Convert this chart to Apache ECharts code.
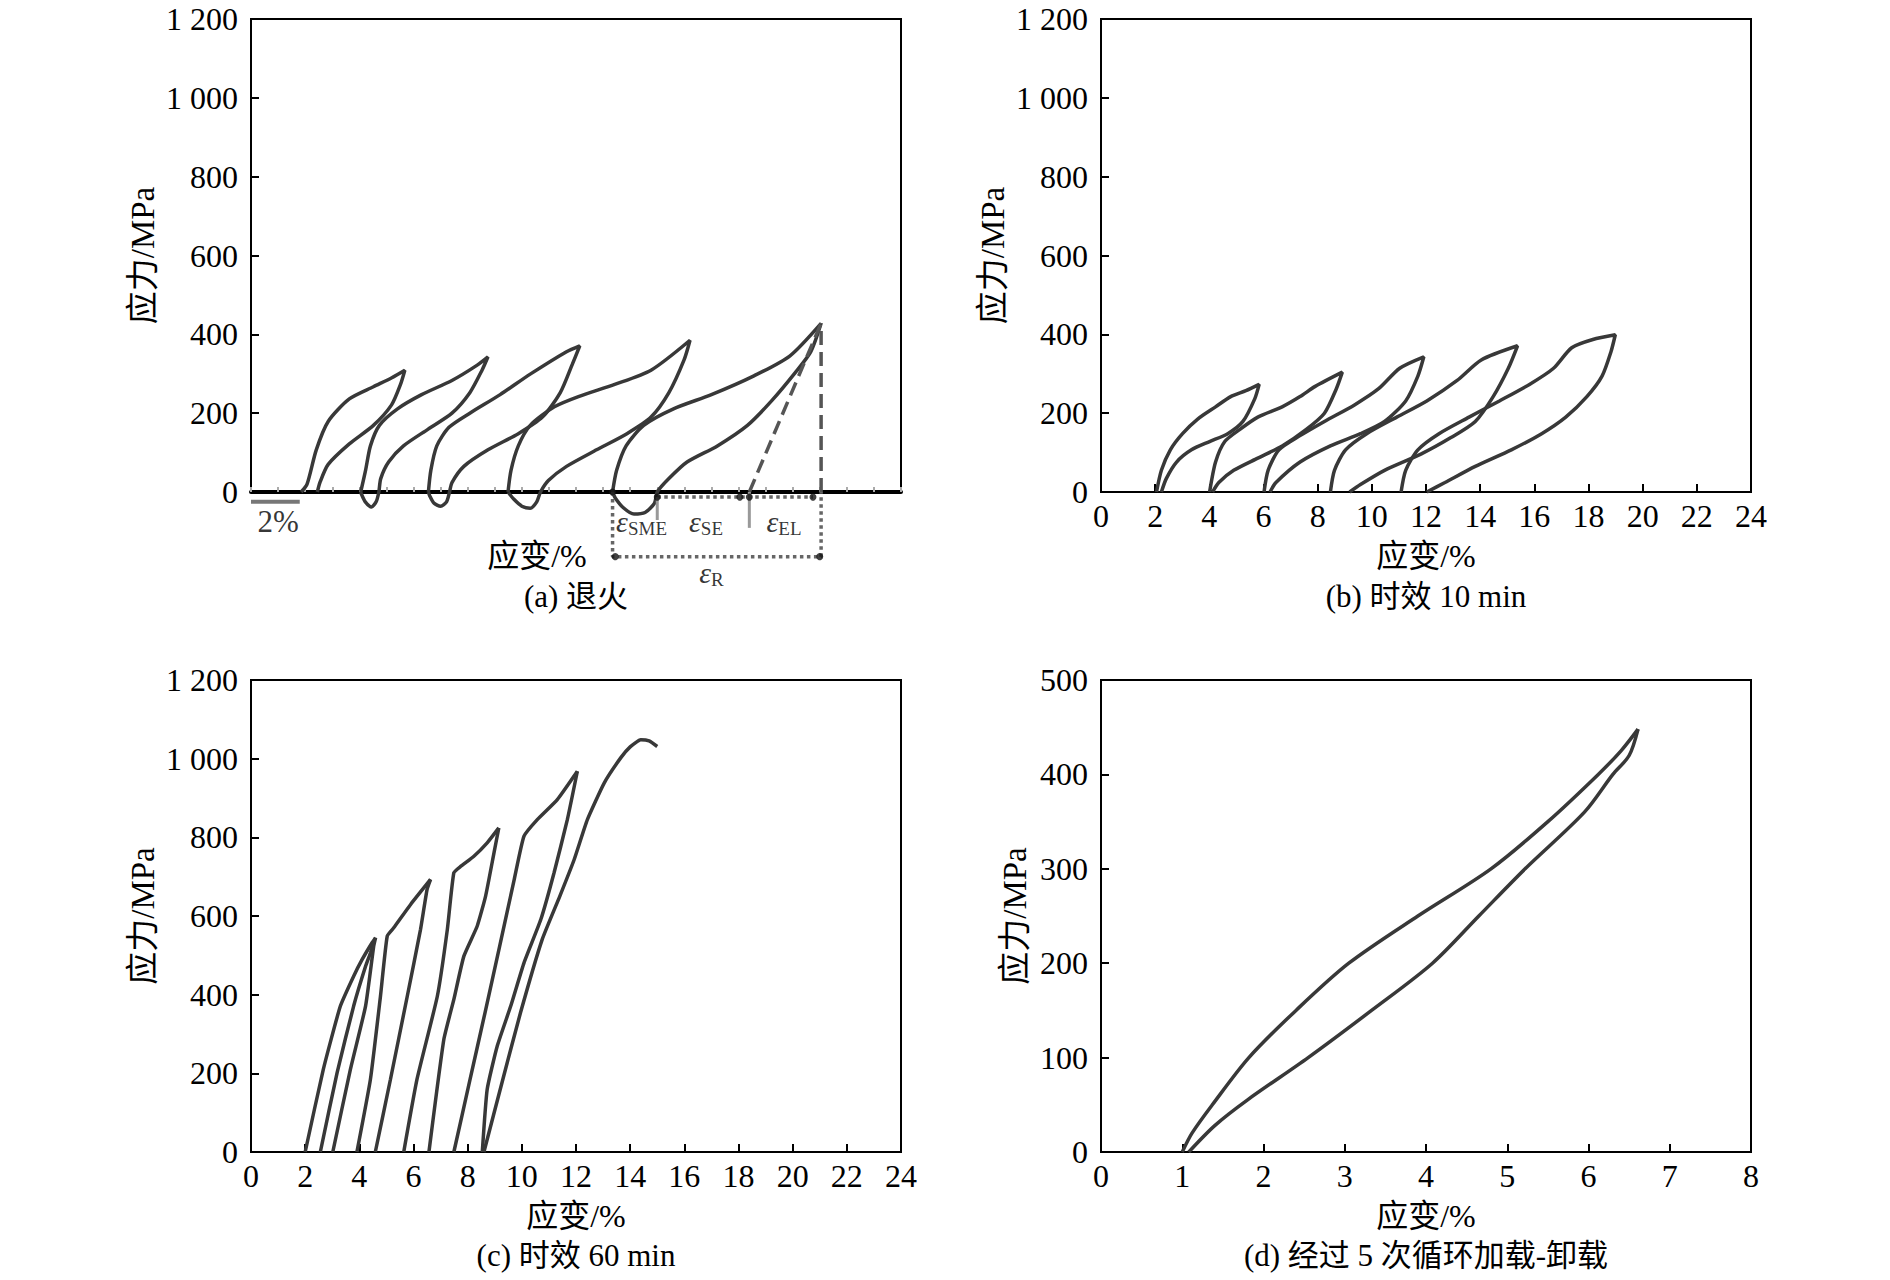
<!DOCTYPE html>
<html><head><meta charset="utf-8">
<script src="https://cdn.jsdelivr.net/npm/echarts@6/dist/echarts.min.js"></script>
<style>html,body{margin:0;padding:0;background:#fff}#c{width:1890px;height:1280px}</style>
</head><body><div id="c"></div>
<script>
// ---------- data (strain %, stress MPa) ----------
const annealedLoop1 = [[1.85,0],[2.07,20],[2.41,107],[2.85,179],[3.63,236],[4.52,267],[5.2,290],[5.68,309],[5.52,273],[5.19,221],[4.52,169],[3.63,122],[2.85,70],[2.55,25],[2.45,0]];
const annealedLoop2 = [[4.05,0],[4.23,55],[4.41,117],[4.74,169],[5.41,211],[6.30,247],[7.42,283],[8.31,320],[8.75,343],[8.53,309],[8.08,252],[7.42,200],[6.53,159],[5.63,117],[5.08,76],[4.79,34],[4.72,0],[4.62,-25],[4.45,-38],[4.22,-25],[4.08,-6],[4.05,0]];
const annealedLoop3 = [[6.55,0],[6.64,55],[6.86,117],[7.31,164],[8.08,200],[9.20,247],[10.31,299],[11.65,356],[12.14,371],[11.87,325],[11.42,252],[10.76,190],[9.87,148],[8.75,107],[7.86,65],[7.42,24],[7.33,0],[7.22,-25],[7.0,-36],[6.75,-28],[6.6,-10],[6.55,0]];
const annealedLoop4 = [[9.49,0],[9.60,55],[9.87,117],[10.31,169],[11.20,216],[12.09,242],[13.43,273],[14.77,309],[16.21,385],[15.99,335],[15.43,252],[14.77,190],[13.88,148],[12.76,107],[11.65,65],[10.98,29],[10.69,0],[10.55,-25],[10.31,-41],[10.0,-36],[9.7,-18],[9.49,0]];
const annealedLoop5 = [[13.35,0],[13.5,55],[13.85,117],[14.5,169],[15.6,211],[17.0,247],[18.55,294],[19.89,345],[21.05,428],[20.67,356],[20.11,304],[19.22,231],[18.33,169],[17.22,117],[16.10,76],[15.43,34],[15.0,0],[14.9,-28],[14.55,-52],[14.14,-56],[13.75,-40],[13.45,-15],[13.35,0]];
const scaleBar2pct = [[0,-25],[1.8,-25]];
const epsRBracket = [[13.35,0],[13.35,-164],[21.05,-164],[21.05,0]];
const peakDrop = [[21.05,0],[21.05,428]];
const elasticLine = [[18.4,0],[21.05,428]];
const seDotted = [[15.0,-13],[20.75,-13]];
const elMarker = [[18.4,0],[18.4,-91]];
const smeMarker = [[15.0,-13],[15.0,-71]];
const annoDots = [[13.35,0],[15.0,-13],[18.05,-13],[18.4,-13],[20.75,-13],[13.45,-164],[21.0,-164]];
const annoLabels = [
  {value:[14.42,-76], txt:'{e|ε}{s|SME}'},
  {value:[16.8,-76], txt:'{e|ε}{s|SE}'},
  {value:[19.68,-76], txt:'{e|ε}{s|EL}'},
  {value:[17.0,-205], txt:'{e|ε}{s|R}'},
  {value:[1.0,-75], txt:'{n|2%}'}
];

const aged10Loop1 = [[2.05,0],[2.23,55],[2.56,107],[3.01,148],[3.57,185],[4.23,216],[4.79,242],[5.35,257],[5.84,273],[5.68,237],[5.24,179],[4.68,148],[4.01,128],[3.34,107],[2.79,76],[2.41,34],[2.23,0]];
const aged10Loop2 = [[4.01,0],[4.23,76],[4.57,128],[5.13,159],[5.79,190],[6.69,216],[7.35,242],[7.91,268],[8.91,304],[8.69,262],[8.25,200],[7.58,159],[6.69,117],[5.79,86],[4.90,55],[4.35,24],[4.12,0]];
const aged10Loop3 = [[6.02,0],[6.17,55],[6.57,107],[7.35,143],[8.25,179],[9.36,221],[10.25,262],[11.03,314],[11.92,343],[11.70,294],[11.25,231],[10.47,179],[9.58,148],[8.47,117],[7.35,76],[6.46,24],[6.24,0]];
const aged10Loop4 = [[8.47,0],[8.62,55],[9.03,107],[9.81,148],[10.92,190],[12.03,231],[13.15,283],[14.04,335],[15.38,371],[15.04,314],[14.48,242],[13.82,179],[12.92,138],[11.81,96],[10.47,55],[9.58,19],[9.18,0]];
const aged10Loop5 = [[11.08,0],[11.25,55],[11.70,107],[12.48,148],[13.59,190],[14.71,231],[15.82,273],[16.71,314],[17.38,366],[18.16,387],[18.99,399],[18.83,356],[18.50,294],[17.94,242],[17.16,190],[16.27,148],[15.15,107],[13.82,65],[12.70,24],[12.03,0]];

const aged60Line1 = [[2.0,0],[2.67,210],[3.30,371],[3.79,447],[4.10,489],[4.47,532],[4.60,545]];
const aged60Line2 = [[2.56,0],[3.18,202],[3.79,371],[4.23,472],[4.41,506],[4.55,535]];
const aged60Line3 = [[3.02,0],[3.67,210],[4.23,371],[4.53,523],[4.60,545]];
const aged60Line4 = [[3.91,0],[4.41,185],[4.78,396],[5.03,549],[5.27,570],[5.9,630],[6.63,693]];
const aged60Line5 = [[4.59,0],[5.15,185],[5.77,396],[6.26,566],[6.50,667],[6.63,693]];
const aged60Line6 = [[5.64,0],[6.13,185],[6.88,396],[7.25,566],[7.49,710],[7.74,726],[8.23,752],[8.72,786],[9.15,824]];
const aged60Line7 = [[6.57,0],[7.12,286],[7.49,388],[7.86,498],[8.35,574],[8.66,650],[8.97,760],[9.15,824]];
const aged60Line8 = [[7.49,0],[8.09,185],[8.64,354],[9.18,523],[9.72,693],[10.08,803],[10.57,845],[11.31,896],[12.05,968]];
const aged60Line9 = [[12.05,968],[11.68,845],[11.19,710],[10.70,591],[10.08,481],[9.59,371],[9.09,269],[8.72,159],[8.54,0]];
const aged60Line10 = [[8.6,0],[9.3,185],[9.95,354],[10.75,540],[11.4,650],[11.93,743],[12.42,845],[13.04,938],[13.65,1002],[14.0,1030],[14.39,1048],[14.7,1045],[15.0,1031]];

const cycledLoading = [[1.0,0],[1.12,20],[1.37,50],[1.82,100],[2.4,150],[3.05,200],[3.9,250],[4.8,300],[5.5,350],[6.12,400],[6.4,425],[6.61,448]];
const cycledUnloading = [[6.61,448],[6.5,420],[6.3,400],[5.95,360],[5.22,300],[4.65,250],[4.08,200],[3.33,150],[2.55,100],[1.8,55],[1.4,28],[1.08,0]];

const strainTicks24 = {min:0, max:24, interval:2};
const strainTicks8 = {min:0, max:8, interval:1};
const stressTicks1200 = {min:0, max:1200, interval:200};
const stressTicks500 = {min:0, max:500, interval:100};
const panelTitles = ['(a) 退火','(b) 时效 10 min','(c) 时效 60 min','(d) 经过 5 次循环加载-卸载'];
const xName = '应变/%';
const yName = '应力/MPa';

// ---------- chart ----------
const FONT = '"Liberation Serif","Times New Roman","Noto Sans CJK SC",serif';
const chart = echarts.init(document.getElementById('c'), null, {renderer:'svg'});
const grids = [
  {left:251, top:19, width:650, height:473},
  {left:1101, top:19, width:650, height:473},
  {left:251, top:680, width:650, height:472},
  {left:1101, top:680, width:650, height:472}
].map(g => Object.assign(g, {show:true, borderColor:'#000', borderWidth:2, containLabel:false}));

const fmt = v => v >= 1000 ? String(v).replace(/(\d)(\d{3})$/, '$1 $2') : String(v);
const axisLine = {show:true, lineStyle:{color:'#000', width:2}};
const tick = {show:true, inside:true, length:8, lineStyle:{color:'#000', width:2}};
const lbl = {fontFamily:FONT, fontSize:32, color:'#000'};

function xAxis(i, t, extra) {
  return Object.assign({type:'value', gridIndex:i, min:t.min, max:t.max, interval:t.interval,
    splitLine:{show:false}, axisLine, axisTick:tick,
    axisLabel:Object.assign({margin:8}, lbl),
    name:xName, nameLocation:'middle', nameGap:48,
    nameTextStyle:{fontFamily:FONT, fontSize:32, color:'#000'}}, extra||{});
}
function yAxis(i, t, gap) {
  return {type:'value', gridIndex:i, min:t.min, max:t.max, interval:t.interval,
    splitLine:{show:false}, axisLine, axisTick:tick,
    axisLabel:Object.assign({margin:13, formatter:fmt}, lbl),
    name:yName, nameLocation:'middle', nameGap:gap, nameRotate:90,
    nameTextStyle:{fontFamily:FONT, fontSize:33, color:'#000'}};
}

const xAxes = [
  xAxis(0, {min:0, max:24, interval:1}, {
    axisLabel:{show:false},
    axisTick:{show:true, inside:true, length:5, lineStyle:{color:'#aaa', width:2}},
    axisLine:{show:true, lineStyle:{color:'#000', width:4}},
    nameTextStyle:{fontFamily:FONT, fontSize:32, color:'#000', padding:[0,78,0,0]},
    nameGap:48}),
  xAxis(1, strainTicks24),
  xAxis(2, strainTicks24),
  xAxis(3, strainTicks8)
];
const yAxes = [yAxis(0, stressTicks1200, 92), yAxis(1, stressTicks1200, 92), yAxis(2, stressTicks1200, 92), yAxis(3, stressTicks500, 70)];

const CURVE = '#383838';
function curve(i, data, smooth) {
  return {type:'line', xAxisIndex:i, yAxisIndex:i, data, showSymbol:false, symbol:'none',
    smooth: smooth, clip:false, silent:true,
    lineStyle:{color:CURVE, width:3.5}};
}
function anno(data, type, color, width) {
  return {type:'line', xAxisIndex:0, yAxisIndex:0, data, showSymbol:false, symbol:'none',
    clip:false, silent:true, z:3, lineStyle:{color, width, type}};
}

const series = [
  ...[annealedLoop1, annealedLoop2, annealedLoop3, annealedLoop4, annealedLoop5].map(d => curve(0, d, 0.25)),
  anno(scaleBar2pct, 'solid', '#777', 4),
  anno(epsRBracket, 'dotted', '#666', 3.5),
  anno(peakDrop, 'dashed', '#555', 3.5),
  anno(elasticLine, 'dashed', '#555', 3.5),
  anno(seDotted, 'dotted', '#666', 3.5),
  anno(elMarker, 'solid', '#999', 3),
  anno(smeMarker, 'solid', '#999', 3),
  {type:'scatter', xAxisIndex:0, yAxisIndex:0, data:annoDots, symbolSize:7, clip:false, silent:true, z:4,
   itemStyle:{color:'#111'}},
  {type:'scatter', xAxisIndex:0, yAxisIndex:0, clip:false, silent:true, symbolSize:0, z:5,
   data: annoLabels.map(o => ({value:o.value, label:{formatter:o.txt}})),
   label:{show:true, position:'inside', color:'#000',
     rich:{
       e:{fontFamily:FONT, fontStyle:'italic', fontSize:30, color:'#000'},
       s:{fontFamily:FONT, fontSize:19, color:'#000', padding:[14,0,0,0]},
       n:{fontFamily:FONT, fontSize:31, color:'#000'}
     }}},
  ...[aged10Loop1, aged10Loop2, aged10Loop3, aged10Loop4, aged10Loop5].map(d => curve(1, d, 0.25)),
  ...[aged60Line1, aged60Line2, aged60Line3, aged60Line4, aged60Line5, aged60Line6, aged60Line7, aged60Line8, aged60Line9, aged60Line10].map(d => curve(2, d, 0.15)),
  curve(3, cycledLoading, 0.3),
  curve(3, cycledUnloading, 0.3)
];

const titleCenters = [[576,596],[1426,596],[576,1255],[1426,1255]];
const graphic = panelTitles.map((t, k) => ({
  type:'text', x:titleCenters[k][0], y:titleCenters[k][1], silent:true,
  style:{text:t, font:'31px ' + FONT, fill:'#000', align:'center', verticalAlign:'middle', textAlign:'center', textVerticalAlign:'middle'}
}));

chart.setOption({
  animation:false,
  backgroundColor:'#fff',
  grid:grids, xAxis:xAxes, yAxis:yAxes, series, graphic
});
</script></body></html>
